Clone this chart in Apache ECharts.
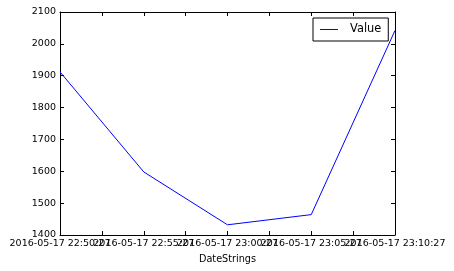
<!DOCTYPE html>
<html><head><meta charset="utf-8">
<script src="https://cdn.jsdelivr.net/npm/echarts@6/dist/echarts.min.js"></script>
<style>html,body{margin:0;padding:0;background:#fff}#c{width:454px;height:271px}</style>
</head><body><div id="c"></div>
<script>
const categories = ["2016-05-17 22:50:27","2016-05-17 22:55:27","2016-05-17 23:00:27","2016-05-17 23:05:27","2016-05-17 23:10:27"];
const values = [1912, 1598, 1432, 1464, 2042];
const seriesName = "Value";
const xTitle = "DateStrings";

const font = "DejaVu Sans";
const chart = echarts.init(document.getElementById('c'), null, {renderer:'canvas'});
const tickStyle = {show:true, inside:true, length:4, lineStyle:{color:'#000', width:1}};
const lineStyle = {show:true, onZero:false, lineStyle:{color:'#000', width:1}};
chart.setOption({
  animation:false,
  backgroundColor:'#fff',
  grid:{left:60, right:59, top:12, bottom:36, containLabel:false},
  legend:{
    left:313, top:18, orient:'horizontal',
    borderColor:'#000', borderWidth:1, borderRadius:0,
    padding:[6,7,6,7], itemWidth:18, itemHeight:1, icon:'rect',
    itemStyle:{color:'#0000ff', borderWidth:0},
    textStyle:{fontFamily:font, fontSize:11.4, color:'#000', padding:[0,0,0,7]},
    data:[seriesName]
  },
  xAxis:[{
    type:'value', min:0, max:categories.length-1, interval:0.5,
    name:xTitle, nameLocation:'middle', nameGap:19,
    nameTextStyle:{fontFamily:font, fontSize:9.7, color:'#000'},
    axisLine:lineStyle, axisTick:tickStyle, splitLine:{show:false},
    axisLabel:{show:true, margin:4, fontFamily:font, fontSize:9.5, color:'#000', hideOverlap:false,
      formatter:v => Number.isInteger(v) ? categories[v] : ''}
  },{
    type:'value', position:'top', min:0, max:categories.length-1, interval:0.5,
    axisLine:lineStyle, axisTick:tickStyle, splitLine:{show:false}, axisLabel:{show:false}
  }],
  yAxis:[{
    type:'value', min:1400, max:2100, interval:100,
    axisLine:lineStyle, axisTick:tickStyle, splitLine:{show:false},
    axisLabel:{margin:4, fontFamily:font, fontSize:9.5, color:'#000', formatter:v => String(v)}
  },{
    type:'value', position:'right', min:1400, max:2100, interval:100,
    axisLine:lineStyle, axisTick:tickStyle, splitLine:{show:false}, axisLabel:{show:false}
  }],
  series:[{
    name:seriesName, type:'line', symbol:'none', showSymbol:false,
    lineStyle:{color:'#0000ff', width:1}, itemStyle:{color:'#0000ff'},
    data: values.map((v,i)=>[i,v])
  }]
});
</script></body></html>
